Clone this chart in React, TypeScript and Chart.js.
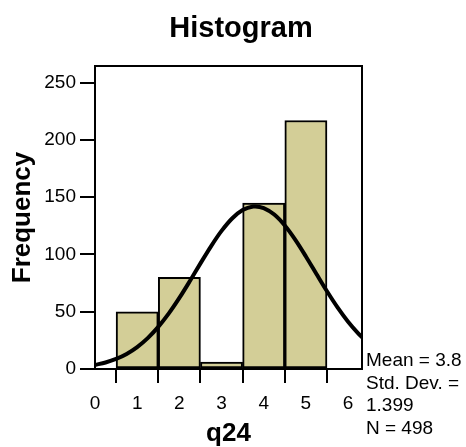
import React, { useEffect, useRef } from "react";
import { Chart, registerables } from "chart.js";

Chart.register(...registerables);

const chartTitle = "Histogram";
const xAxisTitle = "q24";
const yAxisTitle = "Frequency";
const binCenters = [1, 2, 3, 4, 5];
const frequencies = [50, 80, 6, 145, 217];
const curveX = [0, 0.25, 0.5, 0.75, 1, 1.25, 1.5, 1.75, 2, 2.25, 2.5, 2.75, 3, 3.25, 3.5, 3.75, 3.8, 4, 4.25, 4.5, 4.75, 5, 5.25, 5.5, 5.75, 6, 6.25, 6.33];
const curveY = [3.55, 5.68, 8.79, 13.19, 19.17, 26.97, 36.76, 48.54, 62.07, 76.87, 92.22, 107.15, 120.59, 131.45, 138.78, 141.92, 142.01, 140.57, 134.85, 125.3, 112.77, 98.3, 82.99, 67.87, 53.76, 41.24, 30.64, 27.68];
const xTicks = [0, 1, 2, 3, 4, 5, 6];
const yTicks = [0, 50, 100, 150, 200, 250];
const statsLines = ["Mean = 3.8", "Std. Dev. =", "1.399", "N = 498"];

const FONT = "'Liberation Sans', Arial, Helvetica, sans-serif";

export default function App() {
  const ref = useRef<HTMLCanvasElement | null>(null);

  useEffect(() => {
    if (!ref.current) return;
    const textPlugin = {
      id: "texts",
      afterDatasetsDraw(chart: any) {
        const { ctx, chartArea } = chart;
        ctx.save();
        ctx.strokeStyle = "#000";
        ctx.lineWidth = 2;
        ctx.strokeRect(chartArea.left, chartArea.top, chartArea.right - chartArea.left, chartArea.bottom - chartArea.top);
        ctx.restore();
      },
      afterDraw(chart: any) {
        const { ctx, chartArea } = chart;
        ctx.save();
        ctx.fillStyle = "#000";
        ctx.textAlign = "center";
        ctx.textBaseline = "alphabetic";
        ctx.font = `bold 29px ${FONT}`;
        ctx.fillText(chartTitle, 241, 37);
        ctx.textAlign = "left";
        ctx.font = `19px ${FONT}`;
        statsLines.forEach((s, i) => {
          ctx.fillText(s, chartArea.right + 4, 366 + i * 22.5);
        });
        ctx.restore();
      },
    };

    const chart = new Chart(ref.current, {
      type: "bar",
      data: {
        datasets: [
          {
            type: "line",
            data: curveX.map((x, i) => ({ x, y: curveY[i] })),
            borderColor: "#000",
            borderWidth: 4,
            pointRadius: 0,
            cubicInterpolationMode: "monotone",
            fill: false,
            order: 0,
          } as any,
          {
            type: "bar",
            data: binCenters.map((x, i) => ({ x, y: frequencies[i] })),
            backgroundColor: "#D3CE97",
            borderColor: "#000",
            borderWidth: 2,
            borderSkipped: false,
            barPercentage: 1,
            categoryPercentage: 1,
            order: 1,
          } as any,
        ],
      },
      options: {
        responsive: false,
        animation: false,
        devicePixelRatio: 1,
        layout: { padding: { top: 66, right: 104, left: 0, bottom: 0 } },
        plugins: { legend: { display: false }, tooltip: { enabled: false }, title: { display: false } },
        scales: {
          x: {
            type: "linear",
            min: 0,
            max: 6.33,
            offset: false,
            afterBuildTicks: (s: any) => {
              s.ticks = xTicks.map((v) => ({ value: v }));
            },
            afterFit: (s: any) => {
              s.height = 78;
            },
            grid: { drawOnChartArea: false, drawTicks: true, tickLength: 14, color: "#000", lineWidth: 2 },
            border: { display: true, color: "#000", width: 2 },
            ticks: { color: "#000", font: { family: FONT, size: 19 }, padding: 9, maxRotation: 0, autoSkip: false },
            title: { display: true, text: xAxisTitle, color: "#000", font: { family: FONT, size: 26, weight: "bold", lineHeight: 1 }, padding: { top: 0, bottom: 0 } },
          },
          y: {
            type: "linear",
            min: 0,
            max: 264.6,
            afterBuildTicks: (s: any) => {
              s.ticks = yTicks.map((v) => ({ value: v }));
            },
            afterFit: (s: any) => {
              s.width = 95;
            },
            grid: { drawOnChartArea: false, drawTicks: true, tickLength: 15, color: "#000", lineWidth: 2 },
            border: { display: true, color: "#000", width: 2 },
            ticks: { color: "#000", font: { family: FONT, size: 19 }, padding: 4, autoSkip: false },
            title: { display: true, text: yAxisTitle, color: "#000", font: { family: FONT, size: 26, weight: "bold" }, padding: { top: 7, bottom: 0 } },
          },
        },
      } as any,
      plugins: [textPlugin],
    });
    return () => chart.destroy();
  }, []);

  return (
    <div style={{ position: "absolute", left: 0, top: 0, width: 466, height: 447, background: "#fff" }}>
      <canvas ref={ref} width={466} height={447} />
    </div>
  );
}
